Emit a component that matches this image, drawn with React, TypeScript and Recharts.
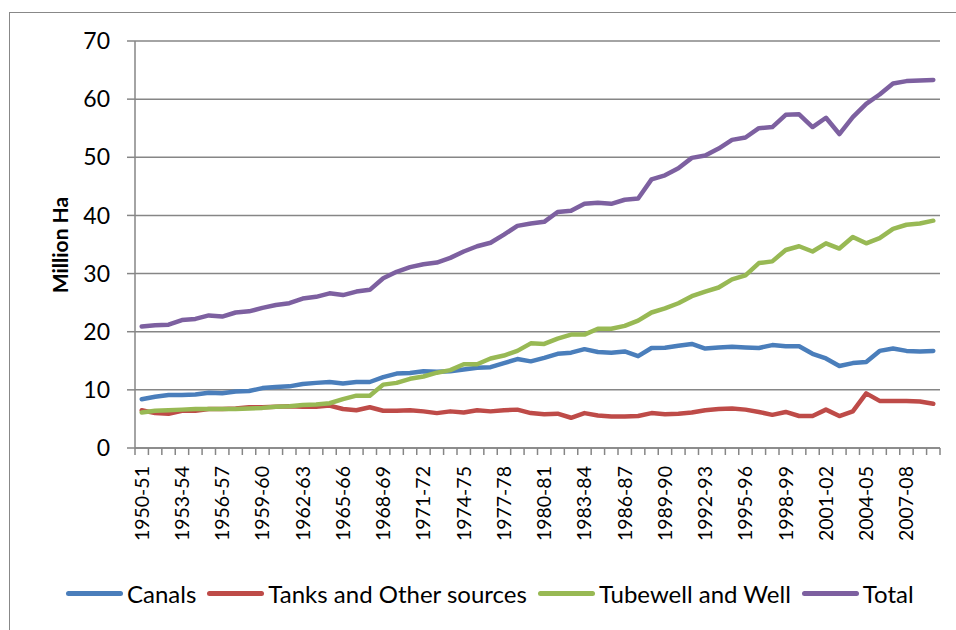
import { LineChart, Line, XAxis, YAxis, CartesianGrid } from 'recharts'

const YEARS = [
    '1950-51', '1951-52', '1952-53', '1953-54', '1954-55', '1955-56', '1956-57', '1957-58', '1958-59', '1959-60',
    '1960-61', '1961-62', '1962-63', '1963-64', '1964-65', '1965-66', '1966-67', '1967-68', '1968-69', '1969-70',
    '1970-71', '1971-72', '1972-73', '1973-74', '1974-75', '1975-76', '1976-77', '1977-78', '1978-79', '1979-80',
    '1980-81', '1981-82', '1982-83', '1983-84', '1984-85', '1985-86', '1986-87', '1987-88', '1988-89', '1989-90',
    '1990-91', '1991-92', '1992-93', '1993-94', '1994-95', '1995-96', '1996-97', '1997-98', '1998-99', '1999-00',
    '2000-01', '2001-02', '2002-03', '2003-04', '2004-05', '2005-06', '2006-07', '2007-08', '2008-09', '2009-10',
]

const CANALS = [
    8.4, 8.8, 9.1, 9.1, 9.2, 9.5, 9.4, 9.7, 9.8, 10.3,
    10.5, 10.6, 11.0, 11.2, 11.35, 11.1, 11.35, 11.35, 12.2, 12.8,
    12.9, 13.2, 13.1, 13.2, 13.5, 13.8, 13.9, 14.6, 15.3, 14.9,
    15.5, 16.2, 16.4, 17.0, 16.5, 16.4, 16.6, 15.8, 17.2, 17.25,
    17.6, 17.9, 17.1, 17.3, 17.4, 17.3, 17.2, 17.7, 17.5, 17.5,
    16.2, 15.4, 14.1, 14.6, 14.8, 16.7, 17.1, 16.7, 16.6, 16.7,
]

const TANKS = [
    6.5, 6.0, 5.9, 6.4, 6.4, 6.7, 6.7, 6.8, 7.0, 7.0,
    7.1, 7.2, 7.1, 7.1, 7.3, 6.7, 6.5, 7.0, 6.4, 6.4,
    6.5, 6.3, 6.0, 6.3, 6.1, 6.5, 6.3, 6.5, 6.6, 6.0,
    5.8, 5.9, 5.2, 6.0, 5.6, 5.4, 5.4, 5.5, 6.0, 5.8,
    5.9, 6.1, 6.5, 6.7, 6.8, 6.6, 6.2, 5.7, 6.2, 5.5,
    5.5, 6.6, 5.5, 6.3, 9.4, 8.1, 8.1, 8.1, 8.0, 7.6,
]

const TUBEWELL = [
    6.1, 6.4, 6.5, 6.6, 6.7, 6.7, 6.7, 6.7, 6.8, 6.9,
    7.1, 7.2, 7.4, 7.5, 7.7, 8.4, 9.0, 9.0, 10.9, 11.2,
    11.9, 12.3, 12.95, 13.4, 14.4, 14.4, 15.4, 15.9, 16.7, 18.0,
    17.9, 18.8, 19.5, 19.5, 20.5, 20.5, 21.0, 21.9, 23.3, 24.0,
    24.9, 26.1, 26.9, 27.6, 29.0, 29.7, 31.8, 32.1, 34.05, 34.7,
    33.8, 35.2, 34.3, 36.3, 35.2, 36.1, 37.7, 38.4, 38.6, 39.1,
]

const TOTAL = [
    20.9, 21.1, 21.2, 22.0, 22.2, 22.8, 22.6, 23.3, 23.5, 24.1,
    24.6, 24.9, 25.7, 26.0, 26.6, 26.3, 26.9, 27.2, 29.2, 30.3,
    31.1, 31.6, 31.9, 32.7, 33.8, 34.7, 35.3, 36.7, 38.2, 38.6,
    38.9, 40.6, 40.8, 42.0, 42.2, 42.0, 42.7, 42.9, 46.2, 46.9,
    48.1, 49.9, 50.3, 51.5, 53.0, 53.4, 55.0, 55.2, 57.3, 57.4,
    55.2, 56.8, 54.0, 56.9, 59.2, 60.8, 62.7, 63.1, 63.2, 63.3,
]

const Y_TICKS = [0, 10, 20, 30, 40, 50, 60, 70]

const SERIES = [
    { key: 'canals', name: 'Canals', color: '#4A7EBB' },
    { key: 'tanks', name: 'Tanks and Other sources', color: '#BE4B48' },
    { key: 'tubewell', name: 'Tubewell and Well', color: '#98B954' },
    { key: 'total', name: 'Total', color: '#7D60A0' },
]

const data = YEARS.map((year, i) => ({
    year,
    canals: CANALS[i],
    tanks: TANKS[i],
    tubewell: TUBEWELL[i],
    total: TOTAL[i],
}))

const FONT = 'Lato, "Open Sans", sans-serif'
const AXIS = '#868686'
const HALF_STEP = 805 / YEARS.length / 2

function YearTick(props: any) {
    const { x, y, payload } = props
    const i = payload.index
    return (
        <g>
            <line x1={x - HALF_STEP} y1={y} x2={x - HALF_STEP} y2={y + 7} stroke={AXIS} strokeWidth={1.5} />
            {i === YEARS.length - 1 && (
                <line x1={x + HALF_STEP} y1={y} x2={x + HALF_STEP} y2={y + 7} stroke={AXIS} strokeWidth={1.5} />
            )}
            {i % 3 === 0 && (
                <text
                    x={x + 7}
                    y={y + 18}
                    transform={`rotate(-90, ${x + 7}, ${y + 18})`}
                    textAnchor="end"
                    fontSize={19.5}
                    fontFamily={FONT}
                    fill="#000"
                >
                    {payload.value}
                </text>
            )}
        </g>
    )
}

export default function App() {
    return (
        <div style={{ position: 'absolute', left: 0, top: 0, width: 956, height: 630, background: '#fff' }}>
            <div style={{ position: 'absolute', left: 9, top: 12, width: 947, height: 618, borderTop: '1.5px solid #888', borderLeft: '1.5px solid #888' }} />
            <LineChart width={956} height={630} data={data} margin={{ top: 41, right: 16, bottom: 0, left: 0 }}>
                <CartesianGrid vertical={false} stroke={AXIS} strokeWidth={1.5} />
                <XAxis
                    dataKey="year"
                    interval={0}
                    padding={{ left: HALF_STEP, right: HALF_STEP }}
                    tickLine={false}
                    tickSize={0}
                    tickMargin={0}
                    stroke={AXIS}
                    strokeWidth={1.5}
                    tick={<YearTick />}
                    height={182}
                />
                <YAxis
                    domain={[0, 70]}
                    ticks={Y_TICKS}
                    width={135}
                    stroke={AXIS}
                    strokeWidth={1.5}
                    tickSize={8}
                    tickMargin={17}
                    tick={{ fill: '#000', fontSize: 23, fontFamily: FONT }}
                    label={{
                        content: () => (
                            <text
                                x={68}
                                y={245}
                                transform="rotate(-90, 68, 245)"
                                textAnchor="middle"
                                fontSize={21}
                                fontWeight="bold"
                                fontFamily={FONT}
                                fill="#000"
                            >
                                Million Ha
                            </text>
                        ),
                    }}
                />
                {SERIES.map((s) => (
                    <Line
                        key={s.key}
                        dataKey={s.key}
                        name={s.name}
                        stroke={s.color}
                        strokeWidth={4.5}
                        dot={false}
                        strokeLinecap="round"
                        strokeLinejoin="round"
                        isAnimationActive={false}
                    />
                ))}
            </LineChart>
            <div style={{ position: 'absolute', left: 66, top: 579, display: 'flex', alignItems: 'center', fontFamily: FONT, fontSize: 24 }}>
                {SERIES.map((s) => (
                    <div key={s.key} style={{ display: 'flex', alignItems: 'center', marginRight: 11 }}>
                        <span style={{ display: 'inline-block', width: 57, height: 5, borderRadius: 3, background: s.color, marginRight: 4 }} />
                        <span>{s.name}</span>
                    </div>
                ))}
            </div>
        </div>
    )
}
